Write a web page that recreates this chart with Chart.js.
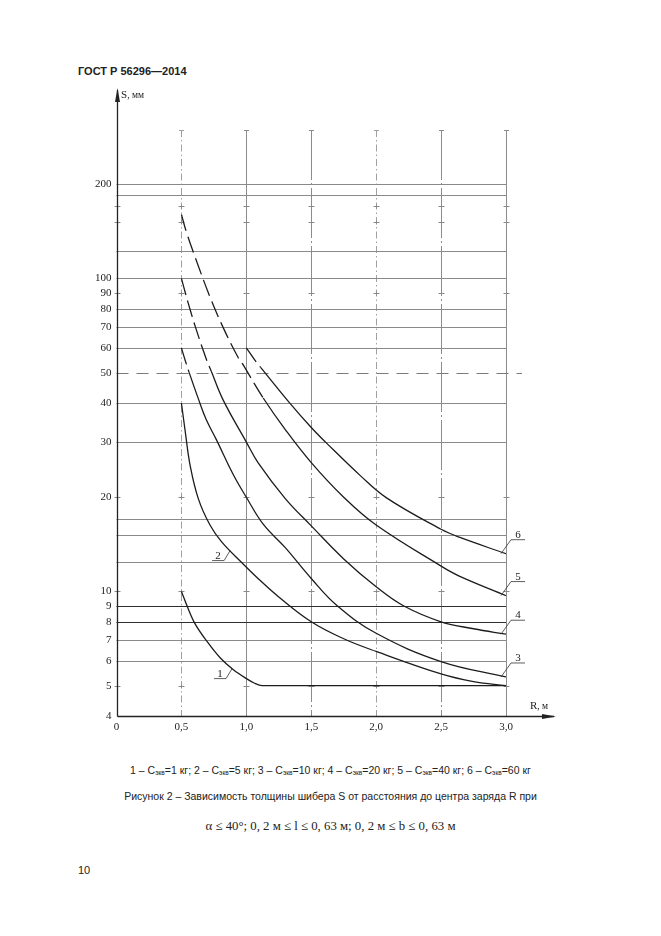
<!DOCTYPE html>
<html><head><meta charset="utf-8">
<script src="https://cdn.jsdelivr.net/npm/chart.js@4.4.0/dist/chart.umd.min.js"></script>
<style>
html,body{margin:0;padding:0;background:#fff;width:661px;height:936px;overflow:hidden;}
#wrap{position:absolute;left:0;top:0;width:661px;height:760px;}
.t{position:absolute;white-space:nowrap;color:#222;line-height:14px;}
sub{font-size:6.5px;vertical-align:-1px;line-height:0;}
</style></head><body>
<div class="t" style="left:78px;top:65px;font:bold 11px 'Liberation Sans',Arial,sans-serif;">ГОСТ Р 56296—2014</div>
<div id="wrap"><canvas id="c" width="661" height="760"></canvas></div>
<div class="t" style="left:121px;top:88px;font:11px 'Liberation Serif',serif;">S<span style="font-size:9.5px">, мм</span></div>
<div class="t" style="left:530px;top:699px;font:11px 'Liberation Serif',serif;">R<span style="font-size:9.5px">, м</span></div>
<div class="t" style="left:0;width:661px;text-align:center;top:764px;font:10.5px 'Liberation Sans',Arial,sans-serif;">1 – C<sub>экв</sub>=1 кг; 2 – C<sub>экв</sub>=5 кг; 3 – C<sub>экв</sub>=10 кг; 4 – C<sub>экв</sub>=20 кг; 5 – C<sub>экв</sub>=40 кг; 6 – C<sub>экв</sub>=60 кг</div>
<div class="t" style="left:0;width:661px;text-align:center;top:790px;font:10.5px 'Liberation Sans',Arial,sans-serif;">Рисунок 2 – Зависимость толщины шибера S от расстояния до центра заряда R при</div>
<div class="t" style="left:0;width:661px;text-align:center;top:819px;font:12.8px 'Liberation Serif',serif;">α ≤ 40°; 0, 2 м ≤ l ≤ 0, 63 м; 0, 2 м ≤ b ≤ 0, 63 м</div>
<div class="t" style="left:78px;top:864px;font:11px 'Liberation Sans',Arial,sans-serif;">10</div>
<script>
// ---- data ----
const rTicks = [0, 0.5, 1.0, 1.5, 2.0, 2.5, 3.0];
const sTicks = [4, 5, 6, 7, 8, 9, 10, 20, 30, 40, 50, 60, 70, 80, 90, 100, 200];
const gridSolid = [6, 7, 12.4, 15.2, 17.1, 30, 40, 60, 70, 80, 100, 122.7, 185, 200];
const gridDark = [8, 9];
const gridDashed = [50];
const gridMarks = [5, 10, 20, 90, 152, 170];
const vSolid = [1.0, 3.0];
const vDashDot = [1.5, 2.5];
const vDotted = [0.5, 2.0];

const curveNames = ['1', '2', '3', '4', '5', '6'];
const labelAnchorR = [0.89, 0.875];

const r1 = [0.5, 0.55, 0.6, 0.7, 0.8, 0.9, 1.0, 1.06, 1.12, 3.0];
const s1 = [10, 8.85, 7.95, 6.9, 6.13, 5.62, 5.27, 5.1, 5.0, 5.0];
const r2 = [0.5, 0.53, 0.567, 0.63, 0.72, 0.81, 0.97, 1.09, 1.25, 1.5, 1.75, 2.0, 2.5, 2.75, 3.0];
const s2 = [40, 32.3, 25.3, 19.8, 16.3, 14.4, 12.3, 11.0, 9.6, 8.0, 7.06, 6.43, 5.45, 5.15, 5.0];
const r3 = [0.5, 0.53, 0.56, 0.63, 0.69, 0.77, 0.9, 1.0, 1.13, 1.3, 1.5, 1.7, 2.0, 2.5, 3.0];
const s3 = [60, 54.6, 50.0, 41.3, 35.5, 30.5, 23.6, 20.0, 16.4, 13.8, 11.0, 9.0, 7.35, 5.97, 5.33];
const r4 = [0.5, 0.53, 0.55, 0.61, 0.69, 0.73, 0.82, 1.0, 1.09, 1.3, 1.5, 1.75, 2.0, 2.21, 2.5, 2.75, 3.0];
const s4 = [100, 90, 84, 69.5, 55.5, 50.5, 41.0, 30, 25.8, 19.8, 16.2, 12.7, 10.35, 9.0, 8.0, 7.6, 7.3];
const r5 = [0.5, 0.54, 0.61, 0.72, 0.82, 0.935, 0.97, 1.13, 1.3, 1.5, 1.75, 2.0, 2.5, 2.64, 3.0];
const s5 = [160, 140, 115.6, 87.3, 69.9, 56.1, 53.4, 41.5, 32.9, 25.8, 20.0, 16.3, 12.05, 11.2, 9.7];
const r6 = [1.0, 1.07, 1.11, 1.33, 1.5, 1.61, 1.88, 2.08, 2.5, 2.64, 3.0];
const s6 = [60, 54.5, 52.0, 40.2, 33.4, 30.0, 23.4, 19.9, 15.8, 14.9, 13.2];

const rs = [r1, r2, r3, r4, r5, r6];
const ss = [s1, s2, s3, s4, s5, s6];

const DASH_ABOVE = 52.5;

const datasets = rs.map((r, i) => {
  const d = {
    label: curveNames[i],
    data: r.map((x, k) => ({x: x, y: ss[i][k]})),
    borderColor: '#1c1c1c',
    borderWidth: 1.3,
    pointRadius: 0,
    fill: false,
    segment: {
      borderDash: ctx => (ctx.p0.parsed.y > DASH_ABOVE ? [17, 6] : undefined)
    }
  };
  if (i === 0) d.cubicInterpolationMode = 'monotone'; else d.tension = 0.4;
  return d;
});

const gridPlugin = {
  id: 'gridPlugin',
  beforeDatasetsDraw(chart) {
    const {ctx, chartArea: a, scales: {x, y}} = chart;
    ctx.save();
    const hline = (v, color, w, dash, x2) => {
      const py = Math.round(y.getPixelForValue(v)) + 0.5;
      ctx.beginPath(); ctx.setLineDash(dash); ctx.strokeStyle = color; ctx.lineWidth = w;
      ctx.moveTo(a.left, py); ctx.lineTo(x2 === undefined ? a.right : x2, py); ctx.stroke();
    };
    const vline = (v, color, w, dash) => {
      const px = Math.round(x.getPixelForValue(v)) + 0.5;
      ctx.beginPath(); ctx.setLineDash(dash); ctx.strokeStyle = color; ctx.lineWidth = w;
      ctx.moveTo(px, a.top); ctx.lineTo(px, a.bottom); ctx.stroke();
      ctx.setLineDash([]);
      ctx.beginPath(); ctx.moveTo(px - 2.5, a.top + 0.5); ctx.lineTo(px + 2.5, a.top + 0.5); ctx.stroke();
    };
    vSolid.forEach(v => vline(v, '#8c8c8c', 1, []));
    vDashDot.forEach(v => vline(v, '#8c8c8c', 1, [50, 3, 2, 3]));
    vDotted.forEach(v => vline(v, '#a0a0a0', 1, [7, 3, 1.5, 3]));
    gridSolid.forEach(v => hline(v, '#8a8a8a', 1, []));
    gridDark.forEach(v => hline(v, '#2e2e2e', 1.2, []));
    gridDashed.forEach(v => hline(v, '#7a7a7a', 1, [12, 8], a.right + 16));
    ctx.setLineDash([]);
    ctx.strokeStyle = '#8a8a8a'; ctx.lineWidth = 1;
    gridMarks.forEach(v => {
      const py = Math.round(y.getPixelForValue(v)) + 0.5;
      rTicks.forEach(r => {
        const px = Math.round(x.getPixelForValue(r)) + 0.5;
        ctx.beginPath(); ctx.moveTo(px - 3, py); ctx.lineTo(px + 3, py);
        if (r > 0) { ctx.moveTo(px, py - 2); ctx.lineTo(px, py + 2); }
        ctx.stroke();
      });
    });
    // axes with arrows
    ctx.strokeStyle = '#222'; ctx.fillStyle = '#222'; ctx.lineWidth = 1.3;
    const ax = Math.round(a.left) + 0.5, ay = Math.round(a.bottom) + 0.5;
    ctx.beginPath(); ctx.moveTo(ax, ay); ctx.lineTo(ax, a.top - 40); ctx.stroke();
    ctx.beginPath(); ctx.moveTo(ax, a.top - 42); ctx.lineTo(ax - 2.5, a.top - 28); ctx.lineTo(ax + 2.5, a.top - 28); ctx.closePath(); ctx.fill();
    ctx.beginPath(); ctx.moveTo(ax, ay); ctx.lineTo(a.right + 48, ay); ctx.stroke();
    ctx.beginPath(); ctx.moveTo(a.right + 50, ay); ctx.lineTo(a.right + 36, ay - 2.5); ctx.lineTo(a.right + 36, ay + 2.5); ctx.closePath(); ctx.fill();
    ctx.restore();
  }
};

const labelPlugin = {
  id: 'labelPlugin',
  afterDatasetsDraw(chart) {
    const {ctx} = chart;
    ctx.save();
    ctx.strokeStyle = '#333'; ctx.lineWidth = 0.8; ctx.fillStyle = '#222';
    ctx.font = "11px 'Liberation Serif', serif"; ctx.textAlign = 'center'; ctx.textBaseline = 'alphabetic';
    chart.data.datasets.forEach((ds, i) => {
      const pts = chart.getDatasetMeta(i).data;
      if (i >= 2) {
        const p = pts[pts.length - 1];
        const ex = p.x, ey = p.y;
        ctx.beginPath(); ctx.moveTo(ex - 5, ey); ctx.lineTo(ex + 5, ey - 14); ctx.lineTo(ex + 19, ey - 14); ctx.stroke();
        ctx.fillText(curveNames[i], ex + 12, ey - 16);
      } else {
        const px = chart.scales.x.getPixelForValue(labelAnchorR[i]);
        let py = null;
        for (let k = 0; k < pts.length - 1; k++) {
          if (pts[k].x <= px && pts[k + 1].x >= px) {
            const t = (px - pts[k].x) / (pts[k + 1].x - pts[k].x);
            py = pts[k].y + t * (pts[k + 1].y - pts[k].y); break;
          }
        }
        ctx.beginPath(); ctx.moveTo(px, py); ctx.lineTo(px - 6, py + 10); ctx.lineTo(px - 18, py + 10); ctx.stroke();
        ctx.fillText(curveNames[i], px - 12, py + 8);
      }
    });
    ctx.restore();
  }
};

new Chart(document.getElementById('c'), {
  type: 'line',
  data: {datasets: datasets},
  options: {
    responsive: false,
    animation: false,
    layout: {padding: {left: 0, top: 130, right: 155, bottom: 0}},
    plugins: {legend: {display: false}, tooltip: {enabled: false}},
    scales: {
      x: {
        type: 'linear', min: 0, max: 3.0,
        afterBuildTicks: s => { s.ticks = rTicks.map(v => ({value: v})); },
        afterFit: s => { s.height = 44; },
        grid: {display: false, drawTicks: false},
        border: {display: false},
        ticks: {
          padding: 5, color: '#222', font: {family: "'Liberation Serif', serif", size: 11},
          callback: v => (v === 0 ? '0' : v.toFixed(1).replace('.', ',')), maxRotation: 0, autoSkip: false
        }
      },
      y: {
        type: 'logarithmic', min: 4, max: 298,
        afterBuildTicks: s => { s.ticks = sTicks.map(v => ({value: v})); },
        afterFit: s => { s.width = 116.5; },
        grid: {display: false, drawTicks: false},
        border: {display: false},
        ticks: {
          padding: 5, color: '#222', font: {family: "'Liberation Serif', serif", size: 11},
          callback: v => String(v), autoSkip: false
        }
      }
    }
  },
  plugins: [gridPlugin, labelPlugin]
});
</script>
</body></html>
